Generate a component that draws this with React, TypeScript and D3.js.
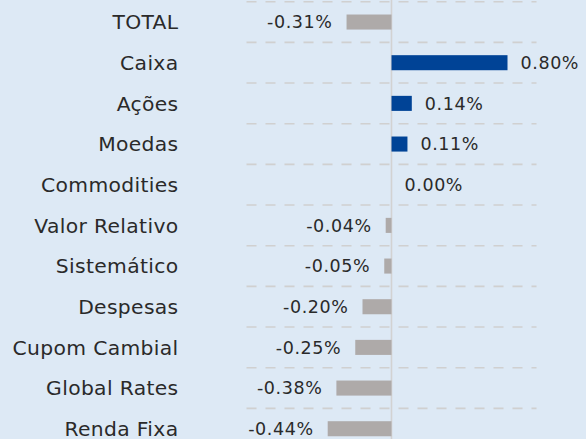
import React from "react";
import * as d3 from "d3";

const categories = [
  "TOTAL",
  "Caixa",
  "Ações",
  "Moedas",
  "Commodities",
  "Valor Relativo",
  "Sistemático",
  "Despesas",
  "Cupom Cambial",
  "Global Rates",
  "Renda Fixa",
];
const values = [-0.31, 0.8, 0.14, 0.11, 0.0, -0.04, -0.05, -0.2, -0.25, -0.38, -0.44];
const valueDomain = [-1, 1];

const W = 586;
const H = 439;
const FONT = "'DejaVu Sans', sans-serif";

export default function App() {
  const x = d3.scaleLinear().domain(valueDomain).range([246.5, 536.5]);
  const y = d3
    .scaleBand<string>()
    .domain(categories)
    .range([1.7, 1.7 + 40.67 * categories.length])
    .paddingInner(0.63)
    .paddingOuter(0.315);
  const step = y.step();
  const bw = y.bandwidth();
  const fmt = (v: number) => v.toFixed(2) + "%";
  const x0 = x(0);

  return (
    <svg
      width={W}
      height={H}
      style={{ position: "absolute", left: 0, top: 0, display: "block" }}
    >
      <rect x={0} y={0} width={W} height={H} fill="#dde9f5" />
      {categories.map((c, i) => (
        <line
          key={"g" + c}
          x1={x(valueDomain[0])}
          x2={x(valueDomain[1])}
          y1={1.7 + i * step}
          y2={1.7 + i * step}
          stroke="#d0d0d0"
          strokeWidth={1.6}
          strokeDasharray="10,9"
        />
      ))}
      <line x1={x0} x2={x0} y1={0} y2={H} stroke="#d2d2d2" strokeWidth={1.6} />
      {categories.map((c, i) => {
        const v = values[i];
        const pos = v >= 0;
        const color = pos ? "#004396" : "#aeaaa9";
        const xs = x(Math.min(0, v));
        const w = Math.abs(x(v) - x0);
        const cy = (y(c) as number) + bw / 2;
        return (
          <g key={c}>
            <rect
              x={xs}
              y={y(c)}
              width={w}
              height={bw}
              fill={color}
              stroke={pos ? "#8aa6c8" : "none"}
              strokeWidth={pos && w === 0 ? 1 : 0}
            />
            <text
              x={178.5}
              y={cy}
              dy="0.36em"
              textAnchor="end"
              fontFamily={FONT}
              fontSize={20.3}
              letterSpacing={0.35}
              fill="#2a2a2a"
            >
              {c}
            </text>
            <text
              x={pos ? x(v) + 13 : x(v) - 14}
              y={cy}
              dy="0.36em"
              textAnchor={pos ? "start" : "end"}
              fontFamily={FONT}
              fontSize={17.5}
              letterSpacing={0.6}
              fill="#2a2a2a"
            >
              {fmt(v)}
            </text>
          </g>
        );
      })}
    </svg>
  );
}
